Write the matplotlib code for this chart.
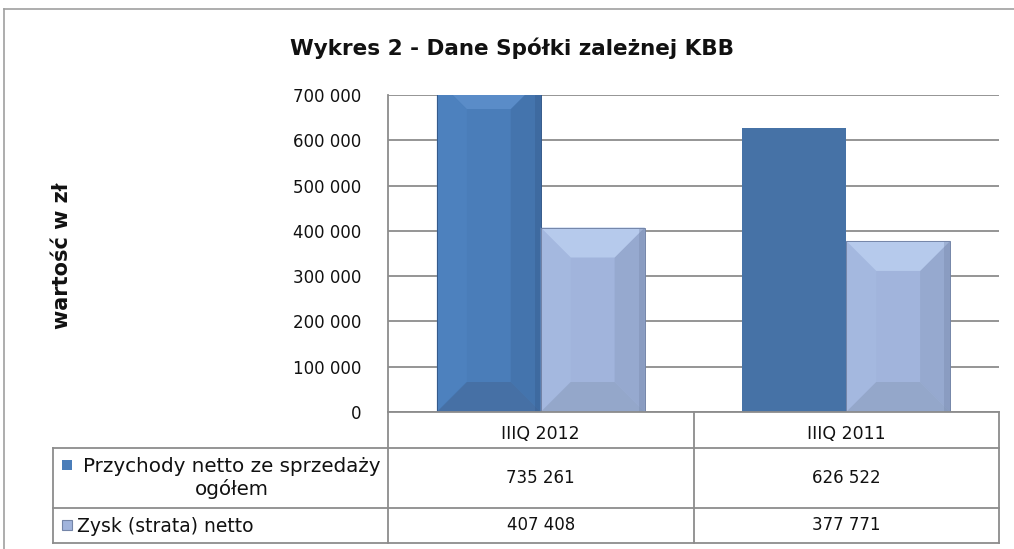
import matplotlib
matplotlib.use("Agg")
import matplotlib.pyplot as plt
from matplotlib.patches import Polygon, Rectangle
from matplotlib.lines import Line2D

# ---- data ----
categories = ["IIIQ 2012", "IIIQ 2011"]
series_names = ["Przychody netto ze sprzedaży\nogółem", "Zysk (strata) netto"]
revenue = [735261, 626522]
profit = [407408, 377771]
yticks = [0, 100000, 200000, 300000, 400000, 500000, 600000, 700000]
title = "Wykres 2 - Dane Spółki zależnej KBB"
ylabel = "wartość w zł"

W, H = 1014, 549
fig = plt.figure(figsize=(W / 100, H / 100), dpi=100)
plt.rcParams['font.family'] = ['DejaVu Sans']

def fx(px):
    return px / W

def fy(py):
    return 1 - py / H

GRID = "#8C8C8C"
TXT = "#111111"
L, R, T, B = 388, 999, 95, 412
ax = fig.add_axes([fx(L), fy(B), fx(R) - fx(L), fy(T) - fy(B)])
ax.set_xlim(-0.5, len(categories) - 0.5)
ax.set_ylim(yticks[0], yticks[-1])
ax.set_yticks(yticks)
ax.set_yticklabels([f"{v:,}".replace(",", " ") for v in yticks], fontsize=12, color=TXT)
ax.tick_params(axis="y", length=0, pad=19)
ax.set_xticks([])
for s in ["top", "right", "bottom"]:
    ax.spines[s].set_visible(False)
ax.spines["left"].set_color(GRID)
ax.spines["left"].set_linewidth(1.3)
ax.yaxis.grid(True, color=GRID, linewidth=1.3)
ax.set_axisbelow(True)

bw = 0.34
px_per_x = (R - L) / (ax.get_xlim()[1] - ax.get_xlim()[0])
px_per_y = (B - T) / (ax.get_ylim()[1] - ax.get_ylim()[0])

def bevel_bar(xc, h, base, top, bottom, left, right, edge, flat, bevel=True, d=30):
    x0, x1 = xc - bw / 2, xc + bw / 2
    y0, y1 = 0, h
    if not bevel:
        ax.add_patch(Rectangle((x0, y0), bw, h, facecolor=flat, edgecolor="none", zorder=3))
        return
    ax.add_patch(Rectangle((x0, y0), bw, h, facecolor=base, edgecolor="none", zorder=3))
    dx = d / px_per_x
    dy = d / px_per_y
    polys = [
        ([(x0, y0), (x0 + dx, y0 + dy), (x0 + dx, y1 - dy), (x0, y1)], left),
        ([(x1, y0), (x1 - dx, y0 + dy), (x1 - dx, y1 - dy), (x1, y1)], right),
        ([(x0, y1), (x1, y1), (x1 - dx, y1 - dy), (x0 + dx, y1 - dy)], top),
        ([(x0, y0), (x1, y0), (x1 - dx, y0 + dy), (x0 + dx, y0 + dy)], bottom),
    ]
    for pts, c in polys:
        ax.add_patch(Polygon(pts, closed=True, facecolor=c, edgecolor="none", zorder=3))
    ax.add_patch(Rectangle((x1 - 6 / px_per_x, y0), 6 / px_per_x, h, facecolor=edge,
                           edgecolor="none", alpha=0.35, zorder=3))
    ax.add_patch(Rectangle((x0, y0), bw, h, facecolor="none", edgecolor=edge,
                           linewidth=0.7, zorder=4))

blue = dict(base="#4A7DB9", top="#5A8CC8", bottom="#4670A5", left="#4D81BE", right="#4474AD",
            edge="#34598A", flat="#4672A6")
light = dict(base="#A1B4DC", top="#B6CAEC", bottom="#94A7CA", left="#A4B8DF", right="#96A9CF",
             edge="#7485A8", flat="#A1B4DC")

for i in range(len(categories)):
    bevel_bar(i - bw / 2, revenue[i], bevel=(i == 0), **blue)
    bevel_bar(i + bw / 2, profit[i], **light)

# title and y label
fig.text(fx(512), fy(48), title, ha="center", va="center", fontsize=15.5, fontweight="bold", color=TXT)
fig.text(fx(62), fy(256), ylabel, ha="center", va="center", rotation=90, fontsize=15,
         fontweight="bold", color=TXT)

def hline(y, xa, xb, c=GRID, lw=1.3):
    fig.add_artist(Line2D([fx(xa), fx(xb)], [fy(y), fy(y)], color=c, linewidth=lw))

def vline(x, ya, yb, c=GRID, lw=1.3):
    fig.add_artist(Line2D([fx(x), fx(x)], [fy(ya), fy(yb)], color=c, linewidth=lw))

# outer frame
hline(9, 4, W, c="#A0A0A0", lw=1.2)
vline(4, 9, H, c="#A0A0A0", lw=1.2)

# data table
LC = 53
row_y = [B, 448, 508, 543]
col_x = [L, (L + R) / 2, R]
hline(B, L, R)
for y in row_y[1:]:
    hline(y, LC, R)
vline(LC, row_y[1], row_y[-1])
for x in col_x:
    vline(x, B, row_y[-1])

fs_num = 12
for i, cat in enumerate(categories):
    cx = (col_x[i] + col_x[i + 1]) / 2
    fig.text(fx(cx), fy(434), cat, ha="center", va="center", fontsize=12.5, color=TXT)
    fig.text(fx(cx), fy((row_y[1] + row_y[2]) / 2), f"{revenue[i]:,}".replace(",", " "),
             ha="center", va="center", fontsize=fs_num, color=TXT)
    fig.text(fx(cx), fy((row_y[2] + row_y[3]) / 2), f"{profit[i]:,}".replace(",", " "),
             ha="center", va="center", fontsize=fs_num, color=TXT)

# row labels with legend keys
fig.text(fx(232), fy(478), series_names[0], ha="center", va="center",
         multialignment="center", fontsize=14.3, color=TXT, linespacing=1.15)
fig.add_artist(Rectangle((fx(62), fy(470)), fx(10), fy(460) - fy(470), transform=fig.transFigure,
                         facecolor=blue["base"], edgecolor="none"))
fig.text(fx(77), fy(526), series_names[1], ha="left", va="center",
         fontsize=13.5, color=TXT)
fig.add_artist(Rectangle((fx(62), fy(530)), fx(10), fy(520) - fy(530), transform=fig.transFigure,
                         facecolor=light["base"], edgecolor=light["edge"], linewidth=0.8))

fig.savefig("out.png", dpi=100)
